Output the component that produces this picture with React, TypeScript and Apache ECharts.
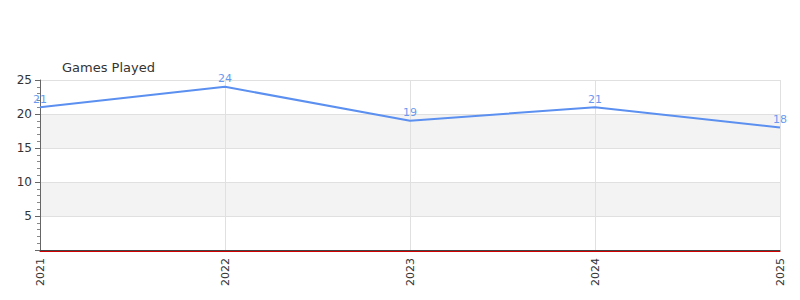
import React, { useEffect, useRef } from "react";
import * as echarts from "echarts";

const years = ["2021", "2022", "2023", "2024", "2025"];
const gamesPlayed = [21, 24, 19, 21, 18];

export default function App() {
  const ref = useRef<HTMLDivElement>(null);
  useEffect(() => {
    if (!ref.current) return;
    const chart = echarts.init(ref.current, null, { renderer: "svg" });
    chart.setOption({
      animation: false,
      title: {
        text: "Games Played",
        left: 49,
        top: 48,
        textStyle: { fontSize: 13, fontWeight: "normal", color: "#333", fontFamily: "DejaVu Sans" },
      },
      grid: { left: 32, right: 20, top: 72, bottom: 58, containLabel: false },
      xAxis: [
        {
          type: "category",
          data: years,
          boundaryGap: false,
          axisLine: { lineStyle: { color: "#444", width: 1 } },
          axisTick: { show: false },
          axisLabel: { rotate: 90, fontSize: 11, color: "#333", fontFamily: "DejaVu Sans", margin: 8 },
          splitLine: { show: true, lineStyle: { color: "#e0e0e0" } },
        },
        {
          type: "category",
          data: years,
          position: "bottom",
          offset: 1,
          boundaryGap: false,
          axisLine: { lineStyle: { color: "#d00000", width: 1 } },
          axisTick: { show: false },
          axisLabel: { show: false },
          splitLine: { show: false },
        },
      ],
      yAxis: {
        type: "value",
        min: 0,
        max: 25,
        interval: 5,
        axisLine: { show: true, lineStyle: { color: "#666" } },
        axisTick: { show: true, length: 5, lineStyle: { color: "#666" } },
        minorTick: { show: true, splitNumber: 5, length: 3, lineStyle: { color: "#888" } },
        axisLabel: { showMinLabel: false, fontSize: 12, color: "#333", fontFamily: "DejaVu Sans" },
        splitLine: { show: true, lineStyle: { color: "#e0e0e0" } },
        splitArea: { show: true, areaStyle: { color: ["#ffffff", "#f3f3f3"] } },
      },
      series: [
        {
          type: "line",
          data: gamesPlayed,
          symbol: "circle",
          symbolSize: 1,
          showSymbol: true,
          itemStyle: { color: "rgba(0,0,0,0)" },
          lineStyle: { color: "#5b8ff0", width: 2 },
          label: { show: true, position: "top", color: "#6a9af0", fontSize: 11, fontFamily: "DejaVu Sans", distance: 2 },
        },
      ],
    });
    return () => chart.dispose();
  }, []);
  return <div ref={ref} style={{ width: 792, height: 300 }} />;
}
